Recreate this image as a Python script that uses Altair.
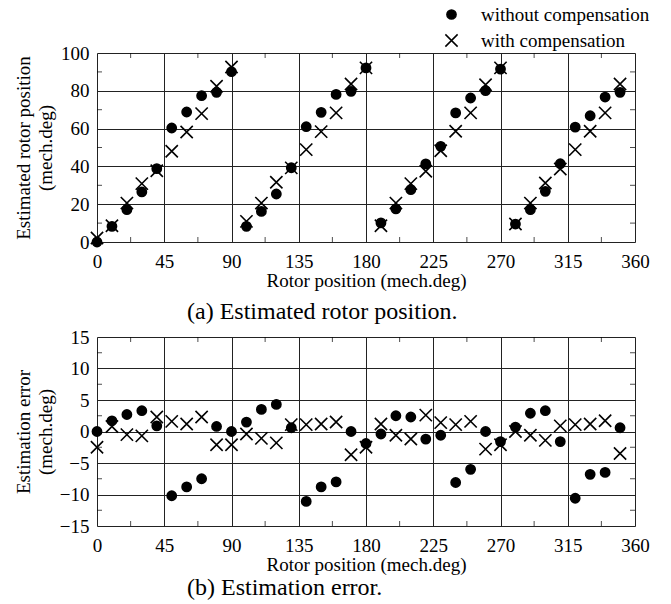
import altair as alt
import pandas as pd

positions = list(range(0, 360, 10))
series_names = ["without compensation", "with compensation"]

est_without = [0, 8.3, 17.1, 26.5, 38.8, 60.3, 68.8, 77.4, 79.2, 90.1,
               8.3, 16.2, 25.4, 39.3, 61.0, 68.6, 78.1, 79.7,
               92.1, 10.1, 17.5, 27.7, 41.3, 50.6, 68.3, 76.2, 80.1, 91.5,
               9.5, 17.1, 26.8, 41.4, 60.8, 66.8, 76.7, 79.2]
est_with = [2.1, 8.6, 20.6, 30.9, 37.7, 48.0, 58.2, 67.9, 82.4, 92.6,
            10.9, 20.6, 31.6, 39.2, 48.9, 58.4, 68.3, 83.6,
            92.1, 8.6, 20.6, 30.9, 37.4, 48.3, 58.6, 68.3, 83.2, 92.1,
            9.5, 20.6, 31.2, 38.6, 48.9, 58.6, 68.3, 83.6]
err_without = [0, 1.7, 2.7, 3.3, 0.9, -10.2, -8.8, -7.5, 0.8, 0,
               1.5, 3.5, 4.3, 0.6, -11.1, -8.8, -8.0, 0,
               -1.9, -0.4, 2.5, 2.3, -1.2, -0.6, -8.1, -6.0, 0, -1.6,
               0.7, 2.9, 3.3, -1.6, -10.6, -6.8, -6.5, 0.6]
err_with = [-2.5, 0.8, -0.5, -0.7, 2.3, 1.6, 1.2, 2.3, -2.1, -2.1,
            -0.4, -1.1, -1.8, 1.1, 1.1, 1.2, 1.5, -3.7,
            -2.5, 1.2, -0.6, -1.2, 2.6, 1.4, 1.1, 1.6, -2.8, -2.1,
            0, -0.6, -1.4, 0.9, 1.1, 1.2, 1.7, -3.5]

x_ticks = [0, 45, 90, 135, 180, 225, 270, 315, 360]
x_minor = [22.5, 67.5, 112.5, 157.5, 202.5, 247.5, 292.5, 337.5]
ya_ticks = [0, 20, 40, 60, 80, 100]
ya_minor = [10, 30, 50, 70, 90]
yb_ticks = [-15, -10, -5, 0, 5, 10, 15]
yb_minor = [-12.5, -7.5, -2.5, 2.5, 7.5, 12.5]

FONT = "Liberation Serif"
XPATH = "M-1,-1L1,1M-1,1L1,-1"


def long_df(a, b):
    rows = []
    for p, v in zip(positions, a):
        rows.append({"pos": p, "val": v, "series": series_names[0]})
    for p, v in zip(positions, b):
        rows.append({"pos": p, "val": v, "series": series_names[1]})
    return pd.DataFrame(rows)


def panel(df, ydom, yticks, yminor, ytitle, caption, legend, cap_offset):
    xs = alt.Scale(domain=[0, 360], nice=False)
    ys = alt.Scale(domain=ydom, nice=False)
    xaxis = alt.Axis(values=x_ticks, title="Rotor position (mech.deg)", grid=True,
                     ticks=False, domain=False, labelFont=FONT, labelFontSize=19,
                     labelColor="black", titleFont=FONT, titleFontSize=19,
                     titleFontWeight="normal", titleColor="black", labelPadding=10,
                     titlePadding=0, gridColor="#222", gridWidth=1, labelFlush=False,
                     labelOverlap=False)
    yaxis = alt.Axis(values=yticks, title=ytitle, grid=True, ticks=False, domain=False,
                     labelFont=FONT, labelFontSize=19, labelColor="black",
                     titleFont=FONT, titleFontSize=19, titleFontWeight="normal",
                     titleColor="black", labelPadding=8, titlePadding=4,
                     minExtent=38, maxExtent=38, gridColor="#222", gridWidth=1,
                     titleLineHeight=22, labelFlush=False, labelOverlap=False)
    leg = None
    if legend:
        leg = alt.Legend(title=None, orient="none", legendX=345, legendY=-48,
                         labelFont=FONT, labelFontSize=19, labelColor="black",
                         symbolStrokeColor="black", symbolStrokeWidth=1.5,
                         labelOffset=20, rowPadding=6, labelLimit=400)
    shape_enc = alt.Shape("series:N", scale=alt.Scale(domain=series_names, range=["circle", XPATH]),
                          legend=leg)
    fill_enc = alt.Fill("series:N", scale=alt.Scale(domain=series_names, range=["black", "transparent"]),
                        legend=leg)
    stroke_enc = alt.Stroke("series:N", scale=alt.Scale(domain=series_names, range=["black", "black"]),
                            legend=leg)
    size_enc = alt.Size("series:N", scale=alt.Scale(domain=series_names, range=[85, 150]),
                        legend=leg)
    pts = alt.Chart(df).mark_point(strokeWidth=1.6, opacity=1).encode(
        x=alt.X("pos:Q", scale=xs, axis=xaxis),
        y=alt.Y("val:Q", scale=ys, axis=yaxis),
        shape=shape_enc, fill=fill_enc, stroke=stroke_enc, size=size_enc)

    # minor ticks drawn inward on all four edges of the frame
    xm = pd.DataFrame([{"pos": m, "val": e} for m in x_minor for e in ydom])
    ym = pd.DataFrame([{"pos": e, "val": m} for m in yminor for e in (0, 360)])
    tick_style = dict(color="black", thickness=1, size=10, clip=True)
    xt = alt.Chart(xm).mark_tick(orient="vertical", **tick_style).encode(
        x=alt.X("pos:Q", scale=xs, axis=xaxis), y=alt.Y("val:Q", scale=ys, axis=yaxis))
    yt = alt.Chart(ym).mark_tick(orient="horizontal", **tick_style).encode(
        x=alt.X("pos:Q", scale=xs, axis=xaxis), y=alt.Y("val:Q", scale=ys, axis=yaxis))

    return alt.layer(pts, xt, yt).properties(
        width=538, height=189,
        title=alt.TitleParams(caption, orient="bottom", anchor="start", frame="group",
                              dx=90, font=FONT, fontSize=24, fontWeight="normal",
                              color="black", offset=cap_offset),
    )


top = panel(long_df(est_without, est_with), [0, 100], ya_ticks, ya_minor,
            ["Estimated rotor position", "(mech.deg)"], "(a) Estimated rotor position.",
            True, 10)
bot = panel(long_df(err_without, err_with), [-15, 15], yb_ticks, yb_minor,
            ["Estimation error", "(mech.deg)"], "(b) Estimation error.", False, 2)

chart = alt.vconcat(top, bot, spacing=2).properties(
    padding={"left": 13, "top": 5, "right": 5, "bottom": 0}
).configure_view(stroke="black", strokeWidth=1.5).configure(background="white")

chart.save("out.html", embed_options={"renderer": "svg", "actions": False})
